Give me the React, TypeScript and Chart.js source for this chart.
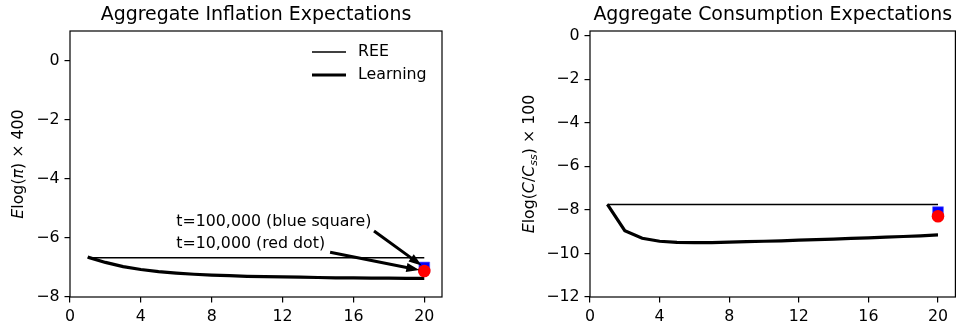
import React, { useEffect, useRef } from 'react';
import { Chart, registerables } from 'chart.js';

Chart.register(...registerables);

// ---------------- data ----------------
const periods = [1, 2, 3, 4, 5, 6, 7, 8, 9, 10, 11, 12, 13, 14, 15, 16, 17, 18, 19, 20];

const inflationREE = [-6.67, -6.67, -6.67, -6.67, -6.67, -6.67, -6.67, -6.67, -6.67, -6.67, -6.67, -6.67, -6.67, -6.67, -6.67, -6.67, -6.67, -6.67, -6.67, -6.67];
const inflationLearning = [-6.65, -6.83, -6.97, -7.07, -7.14, -7.19, -7.23, -7.26, -7.28, -7.30, -7.31, -7.32, -7.33, -7.34, -7.35, -7.35, -7.36, -7.36, -7.37, -7.37];
const inflationBlueSquare = [-7.0];
const inflationRedDot = [-7.12];

const consumptionREE = [-7.75, -7.75, -7.75, -7.75, -7.75, -7.75, -7.75, -7.75, -7.75, -7.75, -7.75, -7.75, -7.75, -7.75, -7.75, -7.75, -7.75, -7.75, -7.75, -7.75];
const consumptionLearning = [-7.75, -8.95, -9.3, -9.44, -9.49, -9.5, -9.5, -9.48, -9.46, -9.44, -9.42, -9.39, -9.36, -9.34, -9.31, -9.28, -9.25, -9.22, -9.19, -9.15];
const consumptionBlueSquare = [-8.1];
const consumptionRedDot = [-8.29];

const markerPeriod = [20];

const xTicks = [0, 4, 8, 12, 16, 20];
const inflationYTicks = [-8, -6, -4, -2, 0];
const consumptionYTicks = [-12, -10, -8, -6, -4, -2, 0];

const seriesLabels = ['REE', 'Learning'];
const titles = ['Aggregate Inflation Expectations', 'Aggregate Consumption Expectations'];
const annotationTexts = ['t=100,000 (blue square)', 't=10,000 (red dot)'];

// ---------------- helpers ----------------
const FONT = 'DejaVu Sans';
const FS = 15.8;

type Seg = { t: string; italic?: boolean; sub?: boolean };

const inflationYLabel: Seg[] = [
  { t: 'E', italic: true },
  { t: 'log(' },
  { t: 'π', italic: true },
  { t: ') × 400' },
];
const consumptionYLabel: Seg[] = [
  { t: 'E', italic: true },
  { t: 'log(' },
  { t: 'C', italic: true },
  { t: '/' },
  { t: 'C', italic: true },
  { t: 'ss', italic: true, sub: true },
  { t: ') × 100' },
];

function segFont(s: Seg) {
  const size = s.sub ? FS * 0.7 : FS;
  return `${s.italic ? 'italic ' : ''}${size}px "${FONT}"`;
}

function drawRich(ctx: CanvasRenderingContext2D, segs: Seg[], cx: number, cy: number) {
  ctx.save();
  ctx.translate(cx, cy);
  ctx.rotate(-Math.PI / 2);
  let total = 0;
  const widths = segs.map((s) => {
    ctx.font = segFont(s);
    const w = ctx.measureText(s.t).width;
    total += w;
    return w;
  });
  let x = -total / 2;
  ctx.fillStyle = '#000';
  ctx.textBaseline = 'middle';
  ctx.textAlign = 'left';
  segs.forEach((s, i) => {
    ctx.font = segFont(s);
    ctx.fillText(s.t, x, s.sub ? FS * 0.25 : 0);
    x += widths[i];
  });
  ctx.restore();
}

function drawArrow(ctx: CanvasRenderingContext2D, x0: number, y0: number, x1: number, y1: number) {
  const dx = x1 - x0;
  const dy = y1 - y0;
  const len = Math.hypot(dx, dy);
  const shrink = 0.05 * len;
  const ux = dx / len;
  const uy = dy / len;
  const sx = x0 + ux * shrink;
  const sy = y0 + uy * shrink;
  const ex = x1 - ux * shrink;
  const ey = y1 - uy * shrink;
  const headLen = 13;
  const headW = 4.5;
  const shaftW = 1.5;
  const px = -uy;
  const py = ux;
  const bx = ex - ux * headLen;
  const by = ey - uy * headLen;
  ctx.save();
  ctx.fillStyle = '#000';
  ctx.beginPath();
  ctx.moveTo(sx + px * shaftW, sy + py * shaftW);
  ctx.lineTo(bx + px * shaftW, by + py * shaftW);
  ctx.lineTo(bx + px * headW, by + py * headW);
  ctx.lineTo(ex, ey);
  ctx.lineTo(bx - px * headW, by - py * headW);
  ctx.lineTo(bx - px * shaftW, by - py * shaftW);
  ctx.lineTo(sx - px * shaftW, sy - py * shaftW);
  ctx.closePath();
  ctx.fill();
  ctx.restore();
}

type Cfg = {
  title: string;
  yLabel: Seg[];
  yLabelOffset: number;
  ree: number[];
  learning: number[];
  square: number[];
  dot: number[];
  yTicks: number[];
  yMin: number;
  yMax: number;
  padLeftAxis: number;
  padRight: number;
  legend: boolean;
  annotations: boolean;
};

function makeChart(canvas: HTMLCanvasElement, cfg: Cfg) {
  const decor = {
    id: 'decor',
    afterDraw(chart: any) {
      const ctx: CanvasRenderingContext2D = chart.ctx;
      const a = chart.chartArea;
      const xs = chart.scales.x;
      const ys = chart.scales.y;
      ctx.save();
      // frame
      ctx.strokeStyle = '#000';
      ctx.lineWidth = 1.2;
      ctx.strokeRect(a.left, a.top, a.right - a.left, a.bottom - a.top);
      // title
      ctx.fillStyle = '#000';
      ctx.font = `${FS * 1.2}px "${FONT}"`;
      ctx.textAlign = 'center';
      ctx.textBaseline = 'middle';
      ctx.fillText(cfg.title, (a.left + a.right) / 2, 15);
      // y label
      drawRich(ctx, cfg.yLabel, a.left - cfg.yLabelOffset, (a.top + a.bottom) / 2);
      // legend
      if (cfg.legend) {
        const rows = [
          { label: seriesLabels[0], w: 1.3, y: a.top + 21 },
          { label: seriesLabels[1], w: 3.2, y: a.top + 44 },
        ];
        rows.forEach((r) => {
          ctx.strokeStyle = '#000';
          ctx.lineWidth = r.w;
          ctx.beginPath();
          ctx.moveTo(a.right - 130, r.y);
          ctx.lineTo(a.right - 96, r.y);
          ctx.stroke();
          ctx.fillStyle = '#000';
          ctx.font = `${FS}px "${FONT}"`;
          ctx.textAlign = 'left';
          ctx.textBaseline = 'middle';
          ctx.fillText(r.label, a.right - 84, r.y);
        });
      }
      // annotations
      if (cfg.annotations) {
        const items = [
          { text: annotationTexts[0], x: 6, y: -5.6, tx: markerPeriod[0], ty: cfg.square[0] },
          { text: annotationTexts[1], x: 6, y: -6.35, tx: markerPeriod[0], ty: cfg.dot[0] },
        ];
        items.forEach((it) => {
          ctx.font = `${FS}px "${FONT}"`;
          ctx.textAlign = 'left';
          ctx.textBaseline = 'alphabetic';
          ctx.fillStyle = '#000';
          const px = xs.getPixelForValue(it.x);
          const py = ys.getPixelForValue(it.y);
          ctx.fillText(it.text, px, py);
          const w = ctx.measureText(it.text).width;
          drawArrow(ctx, px + w, py + 3, xs.getPixelForValue(it.tx), ys.getPixelForValue(it.ty));
        });
      }
      ctx.restore();
    },
  };

  const fmt = (v: any) => String(v).replace('-', '\u2212');

  return new Chart(canvas, {
    type: 'line',
    data: {
      datasets: [
        {
          label: 'red dot',
          data: markerPeriod.map((x, i) => ({ x, y: cfg.dot[i] })),
          showLine: false,
          pointStyle: 'circle',
          pointRadius: 6.3,
          backgroundColor: '#ff0000',
          borderColor: '#ff0000',
          borderWidth: 0,
          order: 0,
        },
        {
          label: 'blue square',
          data: markerPeriod.map((x, i) => ({ x, y: cfg.square[i] })),
          showLine: false,
          pointStyle: 'rect',
          pointRadius: 7.6,
          backgroundColor: '#0000ff',
          borderColor: 'rgba(90,90,255,0.6)',
          borderWidth: 1,
          order: 1,
        },
        {
          label: seriesLabels[1],
          data: periods.map((x, i) => ({ x, y: cfg.learning[i] })),
          borderColor: '#000',
          borderWidth: 3.2,
          pointRadius: 0,
          tension: 0,
          order: 2,
        },
        {
          label: seriesLabels[0],
          data: periods.map((x, i) => ({ x, y: cfg.ree[i] })),
          borderColor: '#000',
          borderWidth: 1.4,
          pointRadius: 0,
          tension: 0,
          order: 3,
        },
      ],
    },
    options: {
      responsive: false,
      animation: false,
      events: [],
      layout: { padding: { top: 31, left: 0, right: cfg.padRight, bottom: 0 } },
      plugins: { legend: { display: false }, tooltip: { enabled: false }, title: { display: false } },
      scales: {
        x: {
          type: 'linear',
          min: 0,
          max: 21,
          afterBuildTicks: (s: any) => {
            s.ticks = xTicks.map((v) => ({ value: v }));
          },
          afterFit: (s: any) => {
            s.height = 29;
          },
          grid: { drawOnChartArea: false, drawTicks: true, tickLength: 5.5, color: '#000', lineWidth: 1.2 },
          border: { display: false },
          ticks: { color: '#000', font: { family: FONT, size: FS }, padding: 5, maxRotation: 0, callback: fmt },
        },
        y: {
          type: 'linear',
          min: cfg.yMin,
          max: cfg.yMax,
          afterBuildTicks: (s: any) => {
            s.ticks = cfg.yTicks.map((v) => ({ value: v }));
          },
          afterFit: (s: any) => {
            s.width = cfg.padLeftAxis;
          },
          grid: { drawOnChartArea: false, drawTicks: true, tickLength: 5.5, color: '#000', lineWidth: 1.2 },
          border: { display: false },
          ticks: { color: '#000', font: { family: FONT, size: FS }, padding: 5, callback: fmt },
        },
      },
    },
    plugins: [decor],
  } as any);
}

export default function App() {
  const leftRef = useRef<HTMLCanvasElement>(null);
  const rightRef = useRef<HTMLCanvasElement>(null);

  useEffect(() => {
    const c1 = makeChart(leftRef.current!, {
      title: titles[0],
      yLabel: inflationYLabel,
      yLabelOffset: 51.5,
      ree: inflationREE,
      learning: inflationLearning,
      square: inflationBlueSquare,
      dot: inflationRedDot,
      yTicks: inflationYTicks,
      yMin: -8,
      yMax: 1,
      padLeftAxis: 70,
      padRight: 40,
      legend: true,
      annotations: true,
    });
    const c2 = makeChart(rightRef.current!, {
      title: titles[1],
      yLabel: consumptionYLabel,
      yLabelOffset: 60,
      ree: consumptionREE,
      learning: consumptionLearning,
      square: consumptionBlueSquare,
      dot: consumptionRedDot,
      yTicks: consumptionYTicks,
      yMin: -12,
      yMax: 0.22,
      padLeftAxis: 108,
      padRight: 2,
      legend: false,
      annotations: false,
    });
    return () => {
      c1.destroy();
      c2.destroy();
    };
  }, []);

  return (
    <div style={{ position: 'absolute', left: 0, top: 0, width: 964, height: 326, background: '#fff' }}>
      <canvas ref={leftRef} width={482} height={326} style={{ position: 'absolute', left: 0, top: 0 }} />
      <canvas ref={rightRef} width={482} height={326} style={{ position: 'absolute', left: 482, top: 0 }} />
    </div>
  );
}
